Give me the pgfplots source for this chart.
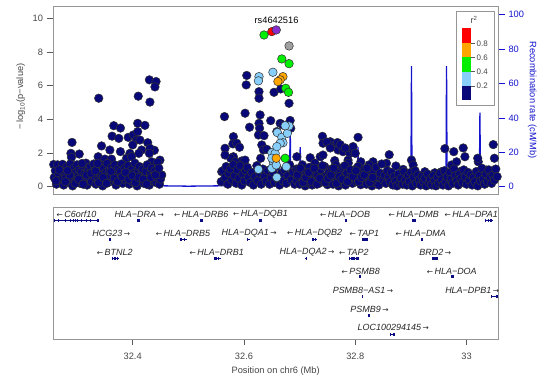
\documentclass[border=0pt]{standalone}
\usepackage{fontspec}
\setmainfont{Liberation Sans}
\newfontfamily\arrowfont{DejaVu Sans}
\usepackage{pgfplots}
\usepackage{pgfplotstable}
\pgfplotsset{compat=1.18}
\definecolor{navyc}{RGB}{8,8,120}
\definecolor{lbluec}{RGB}{135,206,250}
\definecolor{greenc}{RGB}{0,238,0}
\definecolor{orangec}{RGB}{255,165,0}
\definecolor{redc}{RGB}{255,0,0}
\definecolor{purplec}{RGB}{135,45,205}
\definecolor{grayc}{RGB}{160,160,160}
\definecolor{ptedge}{RGB}{50,50,50}
\definecolor{recc}{RGB}{20,20,205}
\definecolor{framegray}{RGB}{150,150,150}
\definecolor{tickgray}{RGB}{90,90,90}
\definecolor{labgray}{RGB}{70,70,70}
\definecolor{genec}{RGB}{10,10,130}

\pgfplotstableread{
x y
32.339 5.25
32.410 5.37
32.430 6.34
32.442 6.24
32.440 5.92
32.431 5.02
32.409 3.76
32.422 3.64
32.366 3.62
32.378 3.48
32.363 3.00
32.375 2.87
32.392 2.93
32.401 3.07
32.407 2.77
32.400 2.48
32.409 3.27
32.413 2.77
32.427 2.61
32.439 2.16
32.416 2.18
32.411 1.98
32.431 2.28
32.430 1.98
32.449 1.58
32.434 1.48
32.291 2.63
32.344 2.42
32.359 2.18
32.378 2.08
32.289 1.98
32.304 1.94
32.395 1.98
32.338 1.78
32.350 1.64
32.362 1.64
32.290 1.74
32.389 1.69
32.398 1.78
32.452 0.69
32.445 1.45
32.258 1.32
32.259 0.55
32.261 0.95
32.263 0.15
32.265 1.30
32.267 0.72
32.270 0.40
32.272 1.05
32.274 1.33
32.276 0.10
32.277 0.85
32.280 0.55
32.282 1.20
32.284 0.25
32.286 0.95
32.288 1.35
32.290 0.60
32.292 0.05
32.294 1.10
32.296 0.80
32.298 0.35
32.300 1.30
32.302 0.65
32.304 1.00
32.306 0.20
32.308 0.90
32.310 1.25
32.312 0.45
32.314 0.75
32.316 1.40
32.318 0.10
32.320 0.95
32.322 0.55
32.324 1.20
32.326 0.30
32.328 0.85
32.330 1.35
32.332 0.60
32.334 0.15
32.336 1.05
32.338 0.40
32.340 0.90
32.342 1.30
32.344 0.70
32.346 0.05
32.348 1.10
32.350 0.50
32.352 0.85
32.354 1.38
32.356 0.25
32.358 0.95
32.360 0.60
32.362 1.15
32.364 0.35
32.366 0.80
32.368 1.30
32.370 0.10
32.372 0.70
32.374 1.05
32.376 0.45
32.378 0.90
32.380 1.35
32.382 0.20
32.384 0.65
32.386 1.10
32.388 0.40
32.390 0.85
32.392 1.25
32.394 0.15
32.396 0.60
32.398 1.00
32.400 0.30
32.402 0.80
32.404 1.40
32.406 0.50
32.408 0.05
32.410 0.95
32.412 1.20
32.414 0.35
32.416 0.75
32.418 1.05
32.420 0.20
32.422 0.60
32.424 0.90
32.426 1.30
32.428 0.45
32.430 0.10
32.432 0.80
32.434 1.10
32.436 0.35
32.438 0.65
32.440 0.95
32.442 0.25
32.444 0.55
32.446 0.85
32.448 0.15
32.450 0.45
32.452 0.70
32.262 0.35
32.268 1.00
32.279 0.30
32.287 0.70
32.297 0.20
32.303 0.45
32.311 0.15
32.317 0.70
32.325 0.80
32.333 0.95
32.339 0.25
32.347 0.55
32.353 0.20
32.361 0.90
32.367 0.50
32.373 0.30
32.381 0.60
32.387 0.85
32.393 0.45
32.399 0.65
32.405 0.25
32.411 0.55
32.419 0.45
32.425 0.15
32.433 0.55
32.441 0.70
32.447 1.10
32.337 1.38
32.309 1.38
32.283 0.95
32.565 4.16
32.602 4.36
32.629 4.26
32.605 6.60
32.604 6.04
32.627 5.64
32.627 5.25
32.654 5.60
32.666 5.80
32.681 4.95
32.610 3.53
32.627 3.76
32.628 3.47
32.626 3.07
32.636 3.03
32.648 3.92
32.665 3.76
32.670 3.66
32.659 3.27
32.581 2.97
32.580 2.54
32.587 2.58
32.592 2.34
32.566 2.28
32.632 2.48
32.635 2.18
32.641 2.22
32.630 1.69
32.581 1.78
32.596 1.53
32.560 0.89
32.635 0.40
32.684 3.47
32.683 3.93
32.576 1.69
32.584 1.48
32.602 1.58
32.599 1.09
32.566 1.88
32.559 0.30
32.562 0.95
32.566 0.55
32.568 1.20
32.571 0.15
32.573 0.80
32.576 1.05
32.578 0.40
32.581 1.30
32.583 0.65
32.586 0.20
32.588 1.00
32.591 0.50
32.593 1.25
32.596 0.10
32.598 0.75
32.601 0.35
32.603 0.95
32.606 1.15
32.608 0.55
32.611 0.25
32.614 0.85
32.617 0.10
32.620 0.60
32.623 1.25
32.625 0.35
32.628 0.80
32.631 0.15
32.634 1.05
32.637 0.60
32.640 0.30
32.643 0.95
32.646 0.15
32.649 0.55
32.652 0.85
32.655 0.25
32.658 1.20
32.661 0.45
32.664 0.10
32.667 0.80
32.670 0.35
32.673 1.00
32.676 0.20
32.679 0.65
32.682 1.30
32.685 0.40
32.688 0.85
32.691 0.15
32.694 1.05
32.697 0.55
32.700 0.25
32.741 2.99
32.805 2.93
32.755 2.67
32.742 2.58
32.760 2.38
32.769 2.18
32.778 2.08
32.790 1.98
32.796 2.18
32.796 2.38
32.695 1.78
32.737 1.78
32.742 1.88
32.763 1.55
32.787 1.58
32.810 1.48
32.832 1.48
32.861 1.90
32.856 1.39
32.873 1.23
32.886 1.03
32.901 1.58
32.904 1.29
32.925 0.89
32.943 0.83
32.955 0.89
32.961 2.26
32.977 2.08
32.994 2.30
32.997 1.78
32.973 1.29
32.982 1.48
32.988 0.89
33.021 1.48
33.029 0.89
33.036 0.99
33.047 0.89
33.048 2.50
33.050 1.69
32.719 1.72
33.020 1.69
32.749 2.65
32.768 2.62
32.755 2.30
32.773 2.50
32.782 2.30
32.800 1.98
32.6950 0.35
32.6975 1.05
32.7000 0.15
32.7025 0.75
32.7050 1.30
32.7075 0.50
32.7100 0.05
32.7125 0.90
32.7150 0.25
32.7175 1.15
32.7200 0.60
32.7225 0.10
32.7250 0.80
32.7275 1.40
32.7300 0.40
32.7325 0.70
32.7350 0.20
32.7375 1.00
32.7400 0.55
32.7425 0.30
32.7450 1.20
32.7475 0.65
32.7500 0.12
32.7525 0.85
32.7550 0.35
32.7575 1.05
32.7600 0.15
32.7625 0.75
32.7650 1.30
32.7675 0.50
32.7700 0.05
32.7725 0.90
32.7750 0.25
32.7775 1.15
32.7800 0.60
32.7825 0.10
32.7850 0.80
32.7875 1.40
32.7900 0.40
32.7925 0.70
32.7950 0.20
32.7975 1.00
32.8000 0.55
32.8025 0.30
32.8050 1.20
32.8075 0.65
32.8100 0.12
32.8125 0.85
32.8150 0.35
32.8175 1.05
32.8200 0.15
32.8225 0.75
32.8250 1.30
32.8275 0.50
32.8300 0.05
32.8325 0.90
32.8350 0.25
32.8375 1.15
32.8400 0.60
32.8425 0.10
32.8450 0.80
32.8475 1.35
32.8500 0.40
32.8525 0.70
32.8550 0.20
32.8575 0.95
32.8600 0.55
32.8625 0.30
32.8650 0.85
32.8675 0.10
32.8700 0.60
32.8725 0.35
32.8750 0.05
32.8775 0.75
32.8800 0.25
32.8825 0.50
32.8850 0.15
32.8875 0.90
32.8900 0.40
32.8925 0.10
32.8950 0.65
32.8975 0.30
32.9000 0.85
32.9025 0.05
32.9050 0.55
32.9075 0.95
32.9100 0.20
32.9125 0.70
32.9150 0.40
32.9175 0.10
32.9200 0.60
32.9225 0.30
32.9250 0.50
32.9275 0.05
32.9300 0.75
32.9325 0.25
32.9350 0.45
32.9375 0.10
32.9400 0.65
32.9425 0.35
32.9450 0.05
32.9475 0.55
32.9500 0.20
32.9525 0.80
32.9550 0.40
32.9575 0.10
32.9600 0.95
32.9625 0.30
32.9650 0.60
32.9675 0.05
32.9700 0.85
32.9725 0.45
32.9750 0.20
32.9775 1.05
32.9800 0.65
32.9825 0.35
32.9850 0.10
32.9875 0.75
32.9900 0.50
32.9925 0.25
32.9950 1.00
32.9975 0.60
33.0000 0.15
33.0025 0.85
33.0050 0.40
33.0075 0.70
33.0100 0.10
33.0125 0.55
33.0150 0.30
33.0175 0.90
33.0200 0.05
33.0225 0.65
33.0250 0.35
33.0275 1.10
33.0300 0.45
33.0325 0.15
33.0350 0.75
33.0375 0.30
33.0400 1.00
33.0425 0.55
33.0450 0.20
33.0475 0.70
33.0500 0.40
33.0525 1.05
33.0550 0.60
32.6962 0.70
32.7012 1.10
32.7062 0.25
32.7112 0.55
32.7162 0.85
32.7212 0.30
32.7262 1.10
32.7312 0.15
32.7362 0.50
32.7412 1.25
32.7462 0.25
32.7512 0.50
32.7562 0.70
32.7612 1.10
32.7662 0.20
32.7712 0.60
32.7762 0.45
32.7812 1.25
32.7862 0.30
32.7912 1.00
32.7962 0.60
32.8012 0.95
32.8062 0.30
32.8112 0.55
32.8162 0.70
32.8212 1.10
32.8262 0.25
32.8312 0.55
}\navytab

\pgfplotstableread{
x y
32.652 6.79
32.627 6.53
32.626 6.28
32.660 3.21
32.668 2.93
32.670 2.61
32.678 3.17
32.681 3.60
32.674 3.62
32.665 2.58
32.650 2.02
32.656 1.98
32.653 1.39
32.650 1.09
32.676 1.19
32.626 1.03
32.659 0.56
32.650 1.69
32.659 2.38
32.658 1.29
}\lbluetab

\pgfplotstableread{
x y
32.670 6.53
32.665 6.34
32.661 6.24
32.658 1.69
}\orangetab

\pgfplotstableread{
x y
32.636 9.00
32.668 7.58
32.681 7.30
32.675 5.84
32.680 5.60
32.674 1.69
}\greentab

\pgfplotstableread{
x y
32.257 1.5
32.265 1.2
32.270 1.0
32.271 8
32.272 1.2
32.279 1.0
32.280 8
32.281 1.0
32.300 1.5
32.320 1.2
32.338 1.0
32.339 10
32.340 1.0
32.360 1.5
32.375 1.2
32.376 5
32.377 1.2
32.400 1.0
32.420 0.8
32.440 1.2
32.455 0.5
32.500 0.3
32.555 0.5
32.590 1.0
32.603 1.0
32.604 4
32.606 1.0
32.609 1.0
32.610 3
32.611 1.0
32.630 1.0
32.660 1.5
32.682 2
32.683 40
32.684 2
32.700 1.5
32.701 23
32.703 1.5
32.718 1
32.719 10
32.720 1
32.739 1.5
32.740 20
32.741 1.5
32.760 2.5
32.780 1.5
32.804 1.5
32.805 23
32.806 1.5
32.830 2.5
32.850 1.5
32.875 1.5
32.881 4.5
32.888 1.5
32.900 1.5
32.901 70
32.902 1.5
32.920 2
32.935 1.0
32.942 3.5
32.950 1.5
32.963 1.5
32.964 70
32.965 2
32.985 2
33.000 1.5
33.023 1.5
33.024 43
33.025 2
33.040 2.5
33.056 3
}\rectab

\newcommand{\gline}[3]{\addplot[genec, line width=0.7bp, forget plot] coordinates {(#1,#3) (#2,#3)};}
\newcommand{\gbox}[3]{\addplot[genec, line width=3bp, forget plot] coordinates {(#1,#3) (#2,#3)};}
\newcommand{\la}{{\arrowfont\fontsize{7.5}{8}\selectfont ←}}
\newcommand{\ra}{{\arrowfont\fontsize{7.5}{8}\selectfont →}}
\tikzset{genelab/.style={font=\fontsize{9}{10}\selectfont\itshape, text=black!85, inner sep=0pt, anchor=center}}

\begin{document}
\begin{tikzpicture}
\path[use as bounding box] (0,0) rectangle (550bp,383bp);

% recombination axis (right)
\begin{axis}[
  at={(53bp,188.5bp)}, anchor=south west, scale only axis,
  width=445bp, height=188bp,
  xmin=32.2568, xmax=33.0565, ymin=-4.53, ymax=104.65,
  axis x line=none, axis y line*=right,
  axis line style={draw=none},
  ytick={0,20,40,60,80,100},
  tick align=outside, major tick length=7bp,
  major tick style={recc, line width=0.6bp},
  yticklabel style={text=recc, font=\fontsize{9.3}{10}\selectfont},
  /pgf/number format/assume math mode=true,
  ylabel={Recombination rate (cM/Mb)},
  ylabel style={at={(axis description cs:1.0771,0.503)}, anchor=center, rotate=180, text=recc, font=\fontsize{9.3}{10}\selectfont},
]
\addplot[recc, line width=1.3bp] table[x=x,y=y] {\rectab};
\end{axis}

% association axis
\begin{axis}[
  at={(53bp,188.5bp)}, anchor=south west, scale only axis,
  width=445bp, height=188bp,
  xmin=32.2568, xmax=33.0565, ymin=-0.46, ymax=10.69,
  xtick=\empty, ytick={0,2,4,6,8,10}, ytick pos=left,
  tick align=outside, major tick length=6.5bp,
  major tick style={tickgray, line width=0.6bp},
  axis line style={framegray, line width=0.8bp},
  yticklabel style={text=labgray, font=\fontsize{9.3}{10}\selectfont},
  /pgf/number format/assume math mode=true,
  ylabel={−\,log\textsubscript{10}(p−value)},
  ylabel style={at={(axis description cs:-0.0726,0.521)}, anchor=center, text=labgray, font=\fontsize{9.3}{10}\selectfont},
  clip=false,
]
\addplot[only marks, mark=*, mark size=4.3bp, mark options={fill=navyc, draw=ptedge, line width=0.5bp}] table[x=x,y=y] {\navytab};
\addplot[only marks, mark=*, mark size=4.3bp, mark options={fill=lbluec, draw=ptedge, line width=0.5bp}] table[x=x,y=y] {\lbluetab};
\addplot[only marks, mark=*, mark size=4.3bp, mark options={fill=greenc, draw=ptedge, line width=0.5bp}] table[x=x,y=y] {\greentab};
\addplot[only marks, mark=*, mark size=4.3bp, mark options={fill=orangec, draw=ptedge, line width=0.5bp}] table[x=x,y=y] {\orangetab};
\addplot[only marks, mark=*, mark size=4.3bp, mark options={fill=redc, draw=ptedge, line width=0.5bp}] coordinates {(32.650,9.20)};
\addplot[only marks, mark=*, mark size=4.3bp, mark options={fill=grayc, draw=ptedge, line width=0.5bp}] coordinates {(32.681,8.35)};
\addplot[only marks, mark=*, mark size=4.3bp, mark options={fill=purplec, draw=ptedge, line width=0.5bp}] coordinates {(32.658,9.30)};
\node[font=\fontsize{9.3}{10}\selectfont, text=black, anchor=center] at (axis cs:32.6585,9.3) [yshift=10bp] {rs4642516};
\end{axis}

% legend
\draw[framegray, fill=white, line width=0.7bp] (456.7bp,278bp) rectangle (494bp,372bp);
\fill[navyc] (462bp,283bp) rectangle (471bp,297bp);
\fill[lbluec] (462bp,297bp) rectangle (471bp,311.3bp);
\fill[greenc] (462bp,311.3bp) rectangle (471bp,325.7bp);
\fill[orangec] (462bp,325.7bp) rectangle (471bp,339.7bp);
\fill[redc] (462bp,339.7bp) rectangle (471bp,355.3bp);
\foreach \yy/\lab in {297/0.2, 311.3/0.4, 325.7/0.6, 339.7/0.8} {
  \draw[tickgray, line width=0.5bp] (471bp,\yy bp) -- (475bp,\yy bp);
  \node[anchor=west, inner sep=0pt, text=labgray, font=\fontsize{8}{9}\selectfont] at (476.5bp,\yy bp) {\lab};
}
\node[text=labgray, font=\fontsize{9}{10}\selectfont] at (474bp,363bp) {r\textsuperscript{2}};

% gene panel
\begin{axis}[
  at={(53bp,44bp)}, anchor=south west, scale only axis,
  width=445bp, height=131.3bp,
  xmin=32.2568, xmax=33.0565, ymin=0, ymax=131.3,
  ytick=\empty, xtick={32.4,32.6,32.8,33}, xticklabels={32.4,32.6,32.8,33},
  xtick pos=bottom, tick align=outside, major tick length=6bp,
  major tick style={tickgray, line width=0.6bp},
  axis line style={framegray, line width=0.8bp},
  xticklabel style={text=labgray, font=\fontsize{9.3}{10}\selectfont, yshift=-5bp},
  /pgf/number format/assume math mode=true,
  xlabel={Position on chr6 (Mb)},
  xlabel style={at={(axis description cs:0.5004,-0.2475)}, anchor=center, text=labgray, font=\fontsize{9.3}{10}\selectfont},
  clip=false,
]
% row 1
\gline{32.258}{32.340}{118.7}
\gbox{32.258}{32.2605}{118.7}
\gbox{32.2665}{32.268}{118.7}
\gbox{32.278}{32.2795}{118.7}
\gbox{32.2865}{32.288}{118.7}
\gbox{32.2925}{32.294}{118.7}
\gbox{32.2965}{32.298}{118.7}
\gbox{32.300}{32.3015}{118.7}
\gbox{32.308}{32.3095}{118.7}
\gbox{32.316}{32.3175}{118.7}
\gbox{32.324}{32.3255}{118.7}
\gbox{32.336}{32.340}{118.7}
\gbox{32.408}{32.413}{118.7}
\gbox{32.521}{32.527}{118.7}
\gbox{32.627}{32.633}{118.7}
\gbox{32.781}{32.786}{118.7}
\gbox{32.902}{32.910}{118.7}
\gline{33.033}{33.048}{118.7}
\gbox{33.033}{33.035}{118.7}
\gbox{33.038}{33.040}{118.7}
\gbox{33.043}{33.045}{118.7}
% row 2
\gbox{32.357}{32.361}{99.7}
\gline{32.485}{32.498}{99.7}
\gbox{32.485}{32.489}{99.7}
\gbox{32.492}{32.493}{99.7}
\gline{32.605}{32.610}{99.7}
\gbox{32.606}{32.608}{99.7}
\gline{32.723}{32.731}{99.7}
\gbox{32.723}{32.726}{99.7}
\gbox{32.728}{32.730}{99.7}
\gbox{32.812}{32.822}{99.7}
\gbox{32.918}{32.921}{99.7}
% row 3
\gline{32.362}{32.375}{80.7}
\gbox{32.362}{32.364}{80.7}
\gbox{32.366}{32.370}{80.7}
\gbox{32.372}{32.374}{80.7}
\gline{32.546}{32.558}{80.7}
\gbox{32.546}{32.551}{80.7}
\gbox{32.553}{32.554}{80.7}
\gline{32.710}{32.714}{80.7}
\gbox{32.711}{32.713}{80.7}
\gline{32.789}{32.807}{80.7}
\gbox{32.789}{32.791}{80.7}
\gbox{32.793}{32.800}{80.7}
\gbox{32.802}{32.806}{80.7}
\gbox{32.937}{32.949}{80.7}
% row 4
\gbox{32.807}{32.811}{62}
\gbox{32.972}{32.978}{62}
% row 5
\gbox{32.8125}{32.8135}{42.7}
\gline{33.044}{33.057}{42.7}
\gbox{33.044}{33.046}{42.7}
\gbox{33.052}{33.057}{42.7}
% row 6
\gbox{32.822}{32.827}{23.3}
% row 7
\gline{32.862}{32.872}{4.3}
\gbox{32.862}{32.865}{4.3}
\gbox{32.868}{32.871}{4.3}

\node[genelab] at (axis cs:32.299,125) {\la\,C6orf10};
\node[genelab] at (axis cs:32.4117,125) {HLA−DRA\,\ra};
\node[genelab] at (axis cs:32.5231,125) {\la\,HLA−DRB6};
\node[genelab] at (axis cs:32.6297,125) {\la\,HLA−DQB1};
\node[genelab] at (axis cs:32.7818,125) {\la\,HLA−DOB};
\node[genelab] at (axis cs:32.905,125) {\la\,HLA−DMB};
\node[genelab] at (axis cs:33.0083,125) {\la\,HLA−DPA1};
\node[genelab] at (axis cs:32.3614,105.7) {HCG23\,\ra};
\node[genelab] at (axis cs:32.4904,105.7) {\la\,HLA−DRB5};
\node[genelab] at (axis cs:32.6093,105.7) {HLA−DQA1\,\ra};
\node[genelab] at (axis cs:32.727,105.7) {\la\,HLA−DQB2};
\node[genelab] at (axis cs:32.8165,105.7) {\la\,TAP1};
\node[genelab] at (axis cs:32.9177,105.7) {\la\,HLA−DMA};
\node[genelab] at (axis cs:32.3677,86.7) {\la\,BTNL2};
\node[genelab] at (axis cs:32.551,86.7) {\la\,HLA−DRB1};
\node[genelab] at (axis cs:32.7132,86.7) {HLA−DQA2\,\ra};
\node[genelab] at (axis cs:32.7973,86.7) {\la\,TAP2};
\node[genelab] at (axis cs:32.9438,86.7) {BRD2\,\ra};
\node[genelab] at (axis cs:32.8099,68) {\la\,PSMB8};
\node[genelab] at (axis cs:32.9734,68) {\la\,HLA−DOA};
\node[genelab] at (axis cs:32.8138,49) {PSMB8−AS1\,\ra};
\node[genelab] at (axis cs:33.0101,49) {HLA−DPB1\,\ra};
\node[genelab] at (axis cs:32.8255,30) {PSMB9\,\ra};
\node[genelab] at (axis cs:32.8683,11.3) {LOC100294145\,\ra};
\end{axis}
\end{tikzpicture}
\end{document}
